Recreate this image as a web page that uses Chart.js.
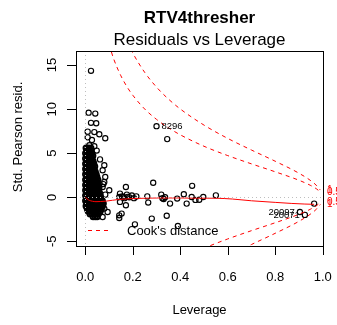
<!DOCTYPE html>
<html>
<head>
<meta charset="utf-8">
<script src="https://cdn.jsdelivr.net/npm/chart.js@4.4.0/dist/chart.umd.min.js"></script>
<style>
  html, body { margin: 0; padding: 0; background: #fff; }
</style>
</head>
<body>
<canvas id="myChart" width="337" height="325"></canvas>
<script>
// dense low-leverage group, one row per residual level: [std. residual, [leverages]]
const clusterRows = [
  [5.6, [0.003, 0.012, 0.024]],
  [5.3, [0.006, 0.015, 0.024]],
  [5.0, [0.001, 0.010, 0.019, 0.028]],
  [4.7, [0.006, 0.015, 0.024, 0.032]],
  [4.4, [0.001, 0.010, 0.019, 0.028]],
  [4.1, [0.006, 0.015, 0.024, 0.033]],
  [3.8, [0.001, 0.010, 0.019, 0.028, 0.036]],
  [3.5, [0.006, 0.015, 0.024, 0.033, 0.040]],
  [3.2, [0.001, 0.010, 0.019, 0.028, 0.037]],
  [2.9, [0.006, 0.015, 0.024, 0.033, 0.042]],
  [2.6, [0.001, 0.010, 0.019, 0.028, 0.037, 0.046]],
  [2.3, [0.006, 0.015, 0.024, 0.033, 0.042, 0.049]],
  [2.0, [0.001, 0.010, 0.019, 0.028, 0.037, 0.046, 0.053]],
  [1.7, [0.006, 0.015, 0.024, 0.033, 0.042, 0.051]],
  [1.4, [0.001, 0.010, 0.019, 0.028, 0.037, 0.046, 0.055]],
  [1.1, [0.006, 0.015, 0.024, 0.033, 0.042, 0.051, 0.058]],
  [0.8, [0.001, 0.010, 0.019, 0.028, 0.037, 0.046, 0.055]],
  [0.5, [0.006, 0.015, 0.024, 0.033, 0.042, 0.051, 0.060]],
  [0.2, [0.001, 0.010, 0.019, 0.028, 0.037, 0.046, 0.055, 0.063]],
  [-0.1, [0.006, 0.015, 0.024, 0.033, 0.042, 0.051, 0.060, 0.067]],
  [-0.4, [0.001, 0.010, 0.019, 0.028, 0.037, 0.046, 0.055, 0.064, 0.072]],
  [-0.7, [0.006, 0.015, 0.024, 0.033, 0.042, 0.051, 0.060, 0.069, 0.076]],
  [-1.0, [0.003, 0.010, 0.019, 0.028, 0.037, 0.046, 0.055, 0.064, 0.073]],
  [-1.3, [0.008, 0.015, 0.024, 0.033, 0.042, 0.051, 0.060, 0.068]],
  [-1.6, [0.012, 0.019, 0.028, 0.037, 0.046, 0.055, 0.063]],
  [-1.9, [0.020, 0.029, 0.038, 0.047, 0.055]],
  [-2.2, [0.033, 0.042, 0.050]],
];

// the rest of the observations: [leverage, std. Pearson residual]
const spreadPts = [
  [0.024, 14.35], [0.014, 9.6], [0.042, 9.5], [0.024, 8.45], [0.046, 8.4],
  [0.010, 7.45], [0.038, 7.4], [0.059, 7.15], [0.084, 6.7], [0.010, 6.8],
  [0.028, 6.5], [0.017, 5.9], [0.038, 5.8], [0.048, 5.3], [0.062, 4.3],
  [0.080, 3.64], [0.073, 3.07], [0.084, 2.3], [0.080, 1.74], [0.076, 1.5],
  [0.073, 1.17], [0.101, 0.8], [0.084, 0.3], [0.094, -1.67], [0.080, -1.28],
  [0.073, -2.24],
  [0.143, -2.05], [0.143, -2.35], [0.153, -1.85], [0.171, 1.17], [0.143, 0.03],
  [0.146, 0.42], [0.146, -0.53], [0.160, 0.03], [0.171, -0.9], [0.155, 0.1],
  [0.165, -0.1], [0.175, 0.3], [0.185, 0.0], [0.196, 0.2], [0.205, -0.1],
  [0.215, 0.1], [0.178, 0.05], [0.209, -3.07], [0.261, 0.1], [0.265, -0.6],
  [0.286, 1.65], [0.280, -2.42], [0.320, 0.3], [0.325, -0.1], [0.330, -0.2],
  [0.336, 0.0], [0.343, -2.1], [0.357, -0.72], [0.387, -0.15], [0.390, -3.25],
  [0.415, 0.34], [0.427, -0.72], [0.450, 1.3], [0.448, 0.03], [0.464, -0.3],
  [0.480, -0.28], [0.497, 0.03], [0.550, 0.22], [0.345, 6.6], [0.964, -0.72],
];

// observations flagged with their row ids
const idLabels = ["8296", "20097", "20071"];
const idLev = [0.30, 0.904, 0.925];
const idRes = [8.07, -1.67, -2.0];
const idSide = ["right", "left", "left"];

// smoothed trend of residual on leverage
const smoothLev = [0.001, 0.008, 0.017, 0.03, 0.045, 0.065, 0.09, 0.14, 0.2, 0.26, 0.31, 0.4, 0.46, 0.55, 0.62, 0.7, 0.8, 0.87, 0.925, 0.964];
const smoothRes = [0.0, -0.2, -0.35, -0.45, -0.5, -0.48, -0.43, -0.25, -0.15, -0.1, -0.08, -0.08, -0.1, -0.11, -0.2, -0.4, -0.58, -0.7, -0.77, -0.8];

// Cook's distance contours (upper halves; the lower halves mirror them)
const cookLev = [0.10, 0.12, 0.15, 0.18, 0.2, 0.25, 0.3, 0.35, 0.4, 0.5, 0.6, 0.7, 0.8, 0.9, 0.95, 0.975, 0.99];
const cookHalf = [17.36, 15.67, 13.78, 12.35, 11.58, 10.02, 8.84, 7.89, 7.09, 5.79, 4.73, 3.79, 2.89, 1.93, 1.33, 0.93, 0.58];
const cookOne = [24.6, 22.2, 19.5, 17.47, 16.37, 14.18, 12.5, 11.15, 10.02, 8.19, 6.68, 5.36, 4.09, 2.73, 1.88, 1.31, 0.82];
const cookLevels = ["0.5", "1"];

const xTicks = [0, 0.2, 0.4, 0.6, 0.8, 1.0];
const xTickLabels = ["0.0", "0.2", "0.4", "0.6", "0.8", "1.0"];
const yTicks = [-5, 0, 5, 10, 15];
const yTickLabels = ["-5", "0", "5", "10", "15"];

const FONT = '"Liberation Sans", Arial, sans-serif';
const RED = "#FF0000";

let clusterPoints = [];
clusterRows.forEach(([res, levs]) => levs.forEach((h) => clusterPoints.push({ x: h, y: res })));
let otherPoints = spreadPts.map(([h, r]) => ({ x: h, y: r }));
idLev.forEach((h, i) => otherPoints.push({ x: h, y: idRes[i] }));

const curve = (xs, ys, sign) => xs.map((h, i) => ({ x: h, y: sign * ys[i] }));

const dashed = (data) => ({
  data: data,
  showLine: true,
  borderColor: RED,
  borderWidth: 1,
  borderDash: [4, 4],
  pointRadius: 0,
  cubicInterpolationMode: "monotone",
});

const circles = (data, width) => ({
  data: data,
  pointStyle: "circle",
  pointRadius: 2.6,
  borderWidth: width,
  borderColor: "#000",
  backgroundColor: "rgba(0,0,0,0)",
});

// grey zero lines sit above the smoother, the frame and text go on last
const rFrame = {
  id: "rFrame",
  afterDatasetDraw(chart, args) {
    if (args.index !== 4) return;
    const { ctx, chartArea: ca, scales } = chart;
    const x0 = Math.round(scales.x.getPixelForValue(0)) + 0.5;
    const y0 = Math.round(scales.y.getPixelForValue(0)) + 0.5;
    ctx.save();
    ctx.strokeStyle = "#BEBEBE";
    ctx.lineWidth = 1;
    ctx.setLineDash([1, 3]);
    ctx.beginPath();
    ctx.moveTo(x0, ca.top);
    ctx.lineTo(x0, ca.bottom);
    ctx.moveTo(ca.left, y0);
    ctx.lineTo(ca.right, y0);
    ctx.stroke();
    ctx.restore();
  },
  afterDraw(chart) {
    const { ctx, chartArea: ca, scales } = chart;
    const xs = scales.x, ys = scales.y;
    const midX = (ca.left + ca.right) / 2;
    ctx.save();
    ctx.strokeStyle = "#000";
    ctx.fillStyle = "#000";
    ctx.lineWidth = 1;
    ctx.strokeRect(ca.left + 0.5, ca.top + 0.5, ca.width, ca.height);

    // bottom axis
    ctx.font = "13px " + FONT;
    ctx.textAlign = "center";
    ctx.textBaseline = "alphabetic";
    ctx.beginPath();
    xTicks.forEach((v) => {
      const px = Math.round(xs.getPixelForValue(v)) + 0.5;
      ctx.moveTo(px, ca.bottom);
      ctx.lineTo(px, ca.bottom + 9);
    });
    // left axis
    yTicks.forEach((v) => {
      const py = Math.round(ys.getPixelForValue(v)) + 0.5;
      ctx.moveTo(ca.left, py);
      ctx.lineTo(ca.left - 9, py);
    });
    ctx.stroke();
    xTicks.forEach((v, i) => ctx.fillText(xTickLabels[i], xs.getPixelForValue(v), 281));
    yTicks.forEach((v, i) => {
      ctx.save();
      ctx.translate(55.5, ys.getPixelForValue(v));
      ctx.rotate(-Math.PI / 2);
      ctx.fillText(yTickLabels[i], 0, 0);
      ctx.restore();
    });

    // axis titles and headings
    ctx.fillText("Leverage", midX, 314);
    ctx.save();
    ctx.translate(22, 137);
    ctx.rotate(-Math.PI / 2);
    ctx.fillText("Std. Pearson resid.", 0, 0);
    ctx.restore();
    ctx.font = "bold 17px " + FONT;
    ctx.fillText("RTV4thresher", midX, 23);
    ctx.font = "17px " + FONT;
    ctx.fillText("Residuals vs Leverage", midX, 45);

    // legend
    ctx.strokeStyle = RED;
    ctx.setLineDash([4, 4]);
    ctx.beginPath();
    ctx.moveTo(ca.left + 12, ca.bottom - 15.5);
    ctx.lineTo(ca.left + 34, ca.bottom - 15.5);
    ctx.stroke();
    ctx.setLineDash([]);
    ctx.font = "13px " + FONT;
    ctx.textAlign = "left";
    ctx.textBaseline = "middle";
    ctx.fillText("Cook's distance", ca.left + 51, ca.bottom - 15);

    // contour levels on the right margin
    const last = cookLev.length - 1;
    const levelAt = [cookHalf[last], cookOne[last]];
    ctx.fillStyle = RED;
    ctx.font = "10px " + FONT;
    [-1, 1].forEach((s) => {
      levelAt.forEach((v, i) => ctx.fillText(cookLevels[i], ca.right + 4, ys.getPixelForValue(s * v)));
    });

    // row ids beside flagged points
    ctx.fillStyle = "#000";
    ctx.font = "9.5px " + FONT;
    idLabels.forEach((lab, i) => {
      const px = xs.getPixelForValue(idLev[i]);
      const py = ys.getPixelForValue(idRes[i]);
      if (idSide[i] === "right") {
        ctx.textAlign = "left";
        ctx.fillText(lab, px + 5, py);
      } else {
        ctx.textAlign = "right";
        ctx.fillText(lab, px - 5, py);
      }
    });
    ctx.restore();
  },
};

new Chart(document.getElementById("myChart"), {
  type: "scatter",
  data: {
    datasets: [
      dashed(curve(cookLev, cookHalf, 1)),
      dashed(curve(cookLev, cookHalf, -1)),
      dashed(curve(cookLev, cookOne, 1)),
      dashed(curve(cookLev, cookOne, -1)),
      {
        data: curve(smoothLev, smoothRes, 1),
        showLine: true,
        borderColor: RED,
        borderWidth: 1,
        pointRadius: 0,
        cubicInterpolationMode: "monotone",
      },
      circles(otherPoints, 1.15),
      circles(clusterPoints, 1.8),
    ],
  },
  options: {
    responsive: false,
    animation: false,
    devicePixelRatio: 1,
    layout: { padding: { left: 76, right: 14, top: 51, bottom: 79 } },
    scales: {
      x: { type: "linear", min: -0.0392, max: 1.0013, display: false },
      y: { type: "linear", min: -5.53, max: 16.6, display: false },
    },
    plugins: { legend: { display: false }, tooltip: { enabled: false } },
  },
  plugins: [rFrame],
});
</script>
</body>
</html>
